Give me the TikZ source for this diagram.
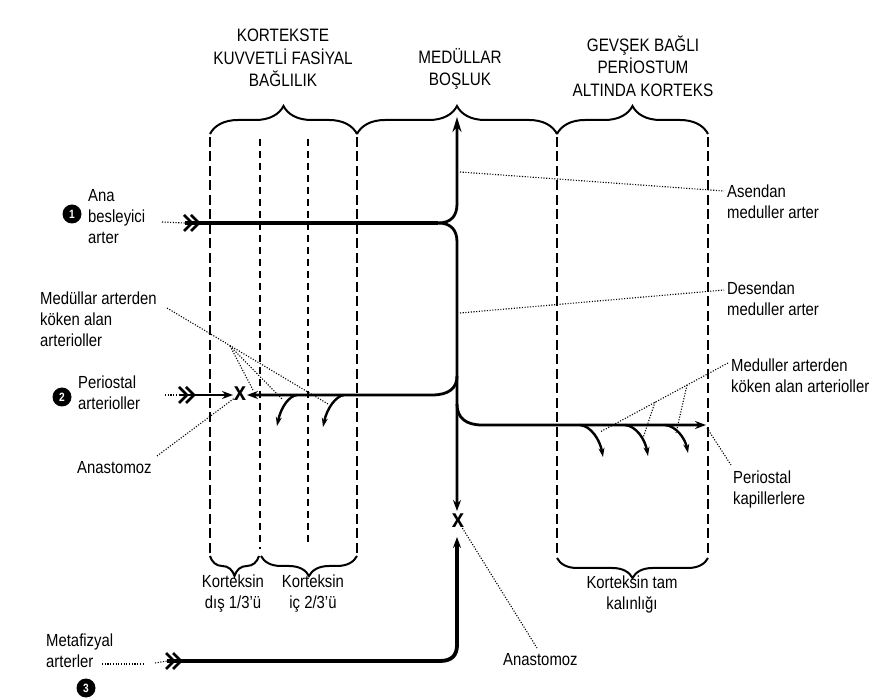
\documentclass[tikz,border=0pt]{standalone}
\usepackage{fontspec}
\setmainfont{Liberation Sans}[FakeStretch=0.85]
\usetikzlibrary{arrows.meta,decorations.pathreplacing}
\tikzset{
  lbl/.style={font=\fontsize{17.5}{21}\selectfont, align=left, inner sep=0pt},
  clbl/.style={font=\fontsize{17.5}{21}\selectfont, align=center, inner sep=0pt},
  hdr/.style={font=\fontsize{18}{22.5}\selectfont, align=center, inner sep=0pt},
  artery/.style={line width=3.8pt},
  vessel/.style={line width=2.8pt},
  twig/.style={line width=2.4pt},
  thickdash/.style={line width=2.8pt, dash pattern=on 10pt off 4.5pt},
  thindash/.style={line width=1.4pt, dash pattern=on 7pt off 5pt},
  leader/.style={line width=1.1pt, dash pattern=on 1.1pt off 1.6pt},
  topbrace/.style={decorate, decoration={brace, amplitude=28pt}, line width=2pt},
  botbrace/.style={decorate, decoration={brace, amplitude=20pt}, line width=2pt},
  num/.style={circle, fill=black, text=white, inner sep=0pt, minimum size=19pt, font=\bfseries\fontsize{12}{12}\selectfont},
  xmark/.style={font=\bfseries\fontsize{26}{26}\selectfont, inner sep=0pt},
  bigtip/.style={-{Stealth[length=15pt,width=9pt]}},
  midtip/.style={-{Stealth[length=11pt,width=8pt]}},
  smalltip/.style={-{Stealth[length=9pt,width=6pt]}},
  feather/.pic={\draw[line width=2.6pt, line join=miter] (-1,-8)--(7,0)--(-1,8) (6,-8)--(14,0)--(6,8);}
}
\begin{document}
\begin{tikzpicture}[x=1pt,y=-1pt]
\useasboundingbox[fill=white] (0,0) rectangle (887,700);

% headers
\node[hdr] (hK) at (283,58) {KORTEKSTE\\KUVVETLİ FASİYAL\\BAĞLILIK};
\node[hdr] (hM) at (460,69) {MEDÜLLAR\\BOŞLUK};
\node[hdr] (hG) at (643,66) {GEVŞEK BAĞLI\\PERİOSTUM\\ALTINDA KORTEKS};

% boundary coordinates
\coordinate (L1t) at (210,137); \coordinate (L1b) at (210,553);
\coordinate (L2t) at (260,139); \coordinate (L2b) at (260,549);
\coordinate (L3t) at (308,139); \coordinate (L3b) at (308,546);
\coordinate (L4t) at (357,137); \coordinate (L4b) at (357,553);
\coordinate (R1t) at (557,137); \coordinate (R1b) at (557,555);
\coordinate (R2t) at (708,137); \coordinate (R2b) at (708,555);

\draw[thickdash] (L1t) -- (L1b);
\draw[thindash] (L2t) -- (L2b);
\draw[thindash] (L3t) -- (L3b);
\draw[thickdash] (L4t) -- (L4b);
\draw[thickdash] (R1t) -- (R1b);
\draw[thickdash] (R2t) -- (R2b);

% top braces
\draw[topbrace] (210,134) -- (357,134);
\draw[topbrace] (357,134) -- (557,134);
\draw[topbrace] (557,134) -- (708,134);
% bottom braces
\draw[botbrace] (259,556) -- (210,556);
\draw[botbrace] (357,556) -- (261,556);
\draw[botbrace] (708,558) -- (557,558);

\node[clbl] (kDis) at (233,594) {Korteksin\\dış 1/3’ü};
\node[clbl] (kIc) at (313,594) {Korteksin\\iç 2/3’ü};
\node[clbl] (kTam) at (632,594) {Korteksin tam\\kalınlığı};

% 1 main nutrient artery
\node[num] (n1) at (72,214) {1};
\node[lbl, anchor=west] (ana) at (88,217) {Ana\\besleyici\\arter};
\coordinate (anaL) at (162,222);
\coordinate (mainS) at (185,223);
\coordinate (mainJ) at (438,223);
\coordinate (topTip) at (457,117);
\coordinate (downTip) at (457,511);
\draw[leader] (anaL) -- (mainS);
\pic at (mainS) {feather};
\draw[artery] (mainS) -- (mainJ);
\draw[vessel, bigtip] (mainJ) .. controls (451,223) and (457,216) .. (457,204) -- (topTip);
\draw[vessel, midtip] (mainJ) .. controls (451,223) and (457,230) .. (457,242) -- (downTip);

% 2 periosteal arterioles
\node[num] (n2) at (62,397) {2};
\node[lbl, anchor=west] (peri) at (78,393) {Periostal\\arterioller};
\coordinate (periL) at (165,395);
\coordinate (periS) at (180,395);
\coordinate (periTip) at (233,395);
\node[xmark] (x1) at (240,394) {x};
\coordinate (medTip) at (247,395);
\draw[leader] (periL) -- (periS);
\pic at (periS) {feather};
\draw[vessel, midtip] (periS) -- (periTip);
\draw[vessel, midtip] (457,376) .. controls (457,388) and (449,395) .. (432,395) -- (medTip);
\coordinate (b1s) at (297,395); \coordinate (b1t) at (277,426);
\coordinate (b2s) at (344,395); \coordinate (b2t) at (323,427);
\draw[twig, smalltip] (b1s) .. controls (289,396) and (281,407) .. (b1t);
\draw[twig, smalltip] (b2s) .. controls (336,396) and (327,408) .. (b2t);

% right branch
\coordinate (rTip) at (706,425);
\draw[vessel, midtip] (457,404) .. controls (457,418) and (466,425) .. (482,425) -- (rTip);
\coordinate (c1s) at (580,425); \coordinate (c1t) at (603,457);
\coordinate (c2s) at (625,425); \coordinate (c2t) at (648,456);
\coordinate (c3s) at (665,425); \coordinate (c3t) at (688,453);
\draw[twig, smalltip] (c1s) .. controls (591,426) and (600,440) .. (c1t);
\draw[twig, smalltip] (c2s) .. controls (636,426) and (645,439) .. (c2t);
\draw[twig, smalltip] (c3s) .. controls (676,426) and (685,438) .. (c3t);

% 3 metaphyseal arteries
\node[num] (n3) at (86,688) {3};
\node[lbl, anchor=west] (meta) at (46,651) {Metafizyal\\arterler};
\coordinate (metaL1) at (102,664); \coordinate (metaL2) at (143,664);
\coordinate (metaL3) at (155,663); \coordinate (metaS) at (167,661);
\coordinate (upTip) at (457,537);
\draw[leader] (metaL1) -- (metaL2);
\draw[leader] (metaL3) -- (metaS);
\pic at (metaS) {feather};
\draw[artery, midtip] (metaS) -- (440,661) .. controls (452,661) and (457,655) .. (457,645) -- (upTip);
\node[xmark] (x2) at (458,521) {x};

% left labels and leaders
\node[lbl, anchor=west] (medArt) at (40,319) {Medüllar arterden\\köken alan\\arterioller};
\coordinate (medL) at (167,308);
\coordinate (fan) at (230,346);
\draw[leader] (medL) -- (328,404);
\draw[leader] (fan) -- (253,390);
\draw[leader] (fan) -- (282,399);
\node[lbl, anchor=west] (anaL1) at (77,468) {Anastomoz};
\draw[leader] (157,456) -- (x1);

% right labels and leaders
\node[lbl, anchor=west] (asc) at (727,202) {Asendan\\meduller arter};
\draw[leader] (460,172) -- (724,191);
\node[lbl, anchor=west] (desc) at (727,299) {Desendan\\meduller arter};
\draw[leader] (460,313) -- (724,290);
\node[lbl, anchor=west] (medR) at (731,376) {Meduller arterden\\köken alan arterioller};
\draw[leader] (728,363) -- (600,432);
\draw[leader] (687,385) -- (676,433);
\draw[leader] (655,402) -- (643,438);
\node[lbl, anchor=west] (kap) at (733,489) {Periostal\\kapillerlere};
\draw[leader] (707,428) -- (731,465);
\node[lbl, anchor=west] (anaR) at (503,660) {Anastomoz};
\draw[leader] (x2) -- (537,648);
\end{tikzpicture}
\end{document}
